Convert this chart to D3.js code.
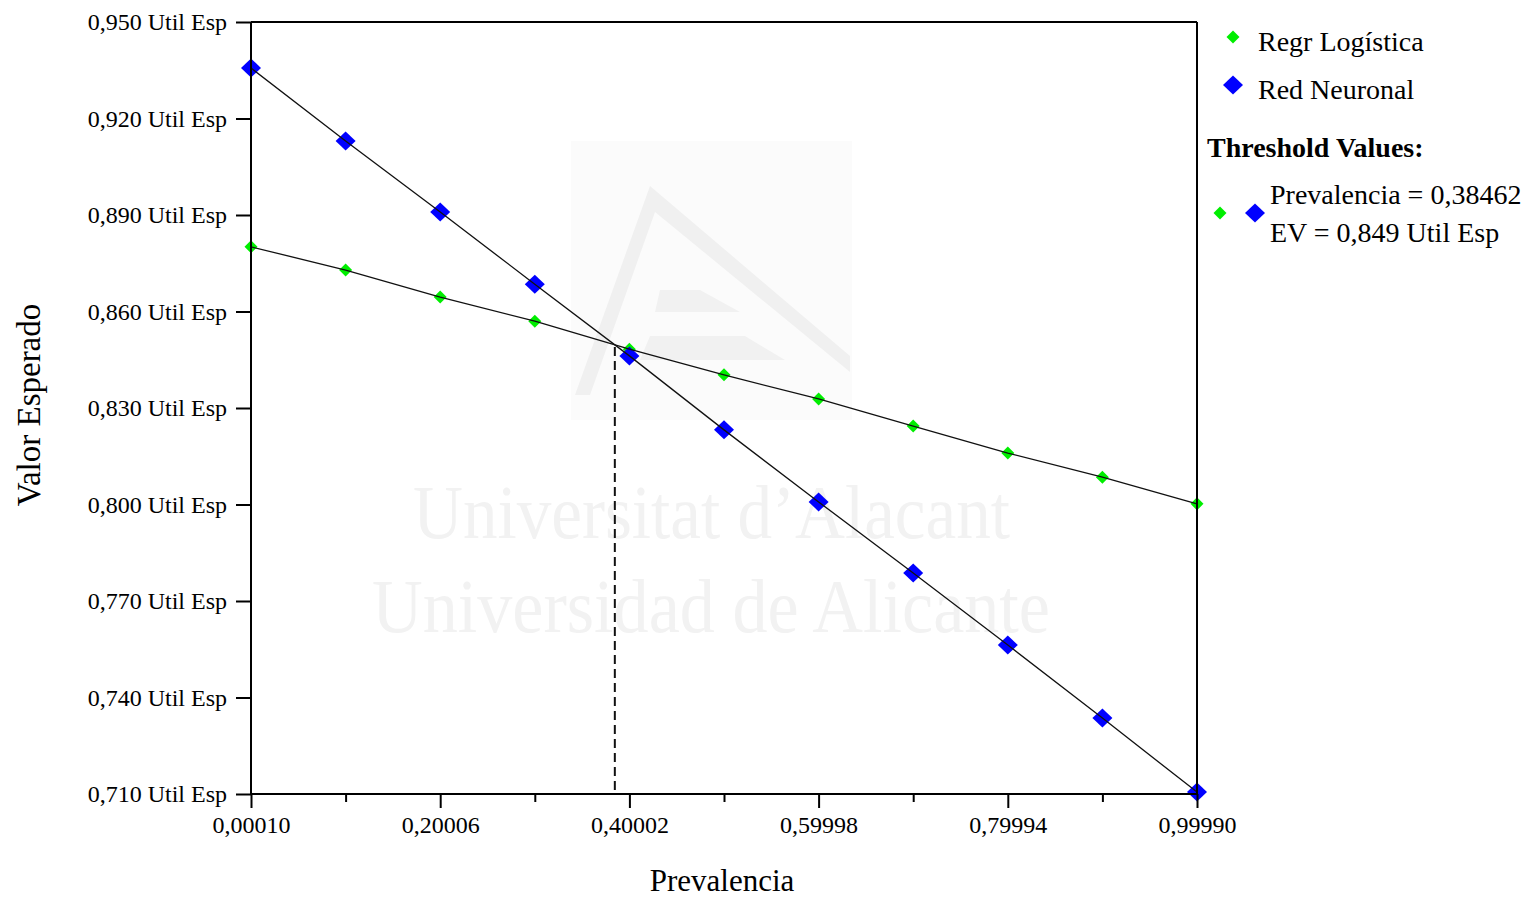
<!DOCTYPE html>
<html>
<head>
<meta charset="utf-8">
<script src="https://cdn.jsdelivr.net/npm/d3@7/dist/d3.min.js"></script>
<style>
  html, body { margin: 0; padding: 0; background: #ffffff; }
  svg { display: block; }
  text { font-family: "Liberation Serif", "Times New Roman", serif; fill: #000; }
</style>
</head>
<body>
<svg id="chart" width="1532" height="900"></svg>
<script>
// Prevalence values at which both models were evaluated
const prevalencia = [0.00010, 0.10008, 0.20006, 0.30004, 0.40002, 0.50000, 0.59998, 0.69996, 0.79994, 0.89992, 0.99990];
// Expected value (Util Esp) for each model
const regrLogistica = [0.8801, 0.8729, 0.8645, 0.8570, 0.8483, 0.8403, 0.8328, 0.8244, 0.8160, 0.8085, 0.8002];
const redNeuronal   = [0.9357, 0.9130, 0.8909, 0.8685, 0.8462, 0.8232, 0.8008, 0.7787, 0.7563, 0.7336, 0.7106];
const seriesNames = ["Regr Logística", "Red Neuronal"];

// Axis ticks
const xTicks = [0.00010, 0.20006, 0.40002, 0.59998, 0.79994, 0.99990];
const xTickLabels = ["0,00010", "0,20006", "0,40002", "0,59998", "0,79994", "0,99990"];
const xMinorTicks = [0.10008, 0.30004, 0.50000, 0.69996, 0.89992];
const yTicks = [0.710, 0.740, 0.770, 0.800, 0.830, 0.860, 0.890, 0.920, 0.950];

// Threshold (crossing point)
const thresholdPrev = 0.38462;
const thresholdEV = 0.849;

const svg = d3.select("#chart");
const plot = { left: 251, right: 1197, top: 22, bottom: 794 };

const x = d3.scaleLinear().domain([0.00010, 0.99990]).range([plot.left, plot.right]);
const y = d3.scaleLinear().domain([0.710, 0.950]).range([plot.bottom, plot.top]);

const GREEN = "#00ee00";
const BLUE = "#0000ff";

// ---- faint watermark ----
const wm = svg.append("g").attr("class", "watermark");
wm.append("rect").attr("x", 571).attr("y", 141).attr("width", 281).attr("height", 279).attr("fill", "#fbfbfb");
wm.append("path")
  .attr("d", "M650,186 L575,395 L590,395 L655,212 L850,372 L850,356 Z")
  .attr("fill", "#f0f0f0");
wm.append("path")
  .attr("d", "M660,290 L700,290 L740,312 L655,312 Z M650,336 L745,336 L785,360 L640,360 Z")
  .attr("fill", "#f1f1f1");
wm.append("text").attr("x", 413).attr("y", 538).attr("font-size", 77)
  .attr("textLength", 597).attr("lengthAdjust", "spacingAndGlyphs")
  .style("fill", "#f2f2f2").text("Universitat d\u2019Alacant");
wm.append("text").attr("x", 372).attr("y", 632).attr("font-size", 77)
  .attr("textLength", 678).attr("lengthAdjust", "spacingAndGlyphs")
  .style("fill", "#f2f2f2").text("Universidad de Alicante");

// ---- markers ----
const diamond = (cx, cy, hw, hh) => `M${cx},${cy - hh} L${cx + hw},${cy} L${cx},${cy + hh} L${cx - hw},${cy} Z`;

svg.append("g").selectAll("path").data(prevalencia.map((p, i) => [p, regrLogistica[i]]))
  .join("path")
  .attr("d", d => diamond(x(d[0]), y(d[1]), 6.5, 6.5))
  .attr("fill", GREEN);

svg.append("g").selectAll("path").data(prevalencia.map((p, i) => [p, redNeuronal[i]]))
  .join("path")
  .attr("d", d => diamond(x(d[0]), y(d[1]), 10, 9.5))
  .attr("fill", BLUE);

// ---- lines (drawn over the markers) ----
const line = d3.line().x(d => x(d[0])).y(d => y(d[1]));
[regrLogistica, redNeuronal].forEach(vals => {
  svg.append("path")
    .datum(prevalencia.map((p, i) => [p, vals[i]]))
    .attr("d", line)
    .attr("fill", "none")
    .attr("stroke", "#111")
    .attr("stroke-width", 1.3);
});

// ---- threshold dashed line ----
svg.append("line")
  .attr("x1", x(thresholdPrev)).attr("x2", x(thresholdPrev))
  .attr("y1", y(thresholdEV)).attr("y2", plot.bottom)
  .attr("stroke", "#111").attr("stroke-width", 2)
  .attr("stroke-dasharray", "9,5");

// ---- frame (top and right) ----
svg.append("line").attr("x1", plot.left).attr("x2", plot.right).attr("y1", plot.top).attr("y2", plot.top)
  .attr("stroke", "#000").attr("stroke-width", 2);
svg.append("line").attr("x1", plot.right).attr("x2", plot.right).attr("y1", plot.top).attr("y2", plot.bottom)
  .attr("stroke", "#000").attr("stroke-width", 2);

// ---- axes ----
const yAxis = d3.axisLeft(y).tickValues(yTicks).tickSize(15).tickPadding(9)
  .tickFormat(d => d3.format(".3f")(d).replace(".", ",") + " Util Esp");
const gy = svg.append("g").attr("transform", `translate(${plot.left},0)`).call(yAxis);
gy.select(".domain").attr("stroke", "#000").attr("stroke-width", 2).attr("d", `M0,${plot.top}V${plot.bottom}`);
gy.selectAll(".tick line").attr("stroke", "#000").attr("stroke-width", 2);
gy.selectAll(".tick text").attr("font-size", 24).attr("font-family", "Liberation Serif").attr("fill", "#000");

const xAxis = d3.axisBottom(x).tickValues(xTicks).tickSize(14).tickPadding(8)
  .tickFormat((d, i) => xTickLabels[i]);
const gx = svg.append("g").attr("transform", `translate(0,${plot.bottom})`).call(xAxis);
gx.select(".domain").attr("stroke", "#000").attr("stroke-width", 2).attr("d", `M${plot.left},0H${plot.right}`);
gx.selectAll(".tick line").attr("stroke", "#000").attr("stroke-width", 2);
gx.selectAll(".tick text").attr("font-size", 24).attr("font-family", "Liberation Serif").attr("fill", "#000");

const xMinor = d3.axisBottom(x).tickValues(xMinorTicks).tickSize(8).tickFormat("");
const gxm = svg.append("g").attr("transform", `translate(0,${plot.bottom})`).call(xMinor);
gxm.select(".domain").remove();
gxm.selectAll(".tick line").attr("stroke", "#000").attr("stroke-width", 2);

// ---- axis titles ----
svg.append("text").attr("x", 722).attr("y", 891).attr("text-anchor", "middle")
  .attr("font-size", 31).text("Prevalencia");
svg.append("text").attr("transform", "translate(40,405) rotate(-90)").attr("text-anchor", "middle")
  .attr("font-size", 33).text("Valor Esperado");

// ---- legend ----
const legend = svg.append("g");
const legendColors = [GREEN, BLUE];
const legendSizes = [[6.5, 6.5], [10, 9.5]];
const legendY = [37, 85];
seriesNames.forEach((name, i) => {
  legend.append("path").attr("d", diamond(1233, legendY[i], legendSizes[i][0], legendSizes[i][1]))
    .attr("fill", legendColors[i]);
  legend.append("text").attr("x", 1258).attr("y", legendY[i] + 14).attr("font-size", 28).text(name);
});
legend.append("text").attr("x", 1207).attr("y", 157).attr("font-size", 28).attr("font-weight", "bold")
  .text("Threshold Values:");
legend.append("path").attr("d", diamond(1220, 213, 6.5, 6.5)).attr("fill", GREEN);
legend.append("path").attr("d", diamond(1255, 213, 10, 9.5)).attr("fill", BLUE);
legend.append("text").attr("x", 1270).attr("y", 204).attr("font-size", 28)
  .text("Prevalencia = " + d3.format(".5f")(thresholdPrev).replace(".", ","));
legend.append("text").attr("x", 1270).attr("y", 242).attr("font-size", 28)
  .text("EV = " + d3.format(".3f")(thresholdEV).replace(".", ",") + " Util Esp");
</script>
</body>
</html>
